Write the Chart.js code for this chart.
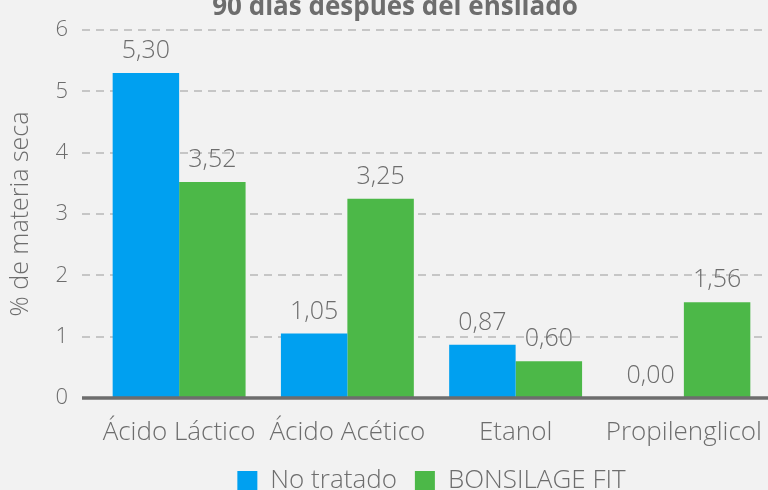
<!DOCTYPE html>
<html>
<head>
<meta charset="utf-8">
<script src="https://cdn.jsdelivr.net/npm/chart.js@4"></script>
<style>
  html, body { margin: 0; padding: 0; background: #f2f2f2; }
  #wrap { width: 768px; height: 490px; overflow: hidden; }
</style>
</head>
<body>
<div id="wrap"><canvas id="chart" width="768" height="490"></canvas></div>
<script>
const categories = ['Ácido Láctico', 'Ácido Acético', 'Etanol', 'Propilenglicol'];
const noTratado = [5.30, 1.05, 0.87, 0.00];
const bonsilage = [3.52, 3.25, 0.60, 1.56];
const seriesNames = ['No tratado', 'BONSILAGE FIT'];
const yTicks = [0, 1, 2, 3, 4, 5, 6];
const chartTitle = '90 días después del ensilado';

const textColor = '#6d6d6d';
const fontFamily = "'Open Sans', 'Noto Sans', sans-serif";

const noScalePadding = (axis) => {
    axis.paddingTop = 0;
    axis.paddingBottom = 0;
    axis.paddingLeft = 0;
    axis.paddingRight = 0;
};

// dashed grid + solid base line, drawn from the y scale
const dashedGrid = {
    id: 'dashedGrid',
    beforeDatasetsDraw(chart) {
        const ctx = chart.ctx;
        const y = chart.scales.y;
        const area = chart.chartArea;
        ctx.save();
        ctx.lineWidth = 2;
        ctx.strokeStyle = '#c6c6c6';
        ctx.setLineDash([8, 6]);
        yTicks.forEach(v => {
            if (v === 0) return;
            const py = Math.round(y.getPixelForValue(v));
            ctx.beginPath();
            ctx.moveTo(area.left - 13, py);
            ctx.lineTo(Math.min(area.right, chart.width - 5), py);
            ctx.stroke();
        });
        ctx.restore();
    },
    afterDatasetsDraw(chart) {
        const ctx = chart.ctx;
        const py = chart.scales.y.getPixelForValue(0);
        ctx.save();
        ctx.lineWidth = 3.5;
        ctx.strokeStyle = '#6d6d6d';
        ctx.beginPath();
        ctx.moveTo(chart.chartArea.left - 13, py);
        ctx.lineTo(chart.width, py);
        ctx.stroke();
        ctx.restore();
    }
};

// values above each bar, comma decimals
const valueLabels = {
    id: 'valueLabels',
    afterDatasetsDraw(chart) {
        const ctx = chart.ctx;
        ctx.save();
        ctx.font = '300 25px ' + fontFamily;
        ctx.fillStyle = textColor;
        ctx.textAlign = 'center';
        ctx.textBaseline = 'alphabetic';
        chart.data.datasets.forEach((ds, i) => {
            chart.getDatasetMeta(i).data.forEach((bar, j) => {
                const txt = ds.data[j].toFixed(2).replace('.', ',');
                ctx.fillText(txt, bar.x, bar.y - 15);
            });
        });
        ctx.restore();
    }
};

// title sits partly above the picture
const topTitle = {
    id: 'topTitle',
    afterDraw(chart) {
        const ctx = chart.ctx;
        ctx.save();
        ctx.font = 'bold 26px ' + fontFamily;
        ctx.fillStyle = textColor;
        ctx.textAlign = 'center';
        ctx.textBaseline = 'alphabetic';
        ctx.fillText(chartTitle, 395, 15);
        ctx.restore();
    }
};

new Chart(document.getElementById('chart').getContext('2d'), {
    type: 'bar',
    data: {
        labels: categories,
        datasets: [
            { label: seriesNames[0], data: noTratado, backgroundColor: '#00a0f0' },
            { label: seriesNames[1], data: bonsilage, backgroundColor: '#4cb848' }
        ]
    },
    options: {
        responsive: false,
        animation: false,
        layout: { autoPadding: false, padding: { top: 30, right: -5, left: 0, bottom: -14 } },
        datasets: { bar: { categoryPercentage: 0.79, barPercentage: 1.0 } },
        plugins: {
            legend: {
                position: 'bottom',
                fullSize: false,
                labels: {
                    color: textColor,
                    font: { family: fontFamily, size: 26, weight: '300' },
                    boxWidth: 20,
                    boxHeight: 20,
                    padding: 18
                }
            },
            tooltip: { enabled: false }
        },
        scales: {
            x: {
                grid: { display: false, drawTicks: false },
                border: { display: false },
                afterFit: (axis) => { axis.height = 52; noScalePadding(axis); },
                ticks: {
                    color: textColor,
                    font: { family: fontFamily, size: 26, weight: '300' },
                    padding: 19,
                    maxRotation: 0,
                    autoSkip: false
                }
            },
            y: {
                min: 0,
                max: 6,
                afterBuildTicks: (axis) => { axis.ticks = yTicks.map(v => ({ value: v })); },
                afterFit: (axis) => { axis.width = 95; noScalePadding(axis); },
                grid: { display: false, drawTicks: false },
                border: { display: false },
                ticks: {
                    color: textColor,
                    font: { family: fontFamily, size: 22, weight: '300' },
                    padding: 27
                },
                title: {
                    display: true,
                    text: '% de materia seca',
                    color: textColor,
                    font: { family: fontFamily, size: 25, weight: '300' },
                    padding: { top: 6, bottom: 0 }
                }
            }
        }
    },
    plugins: [dashedGrid, valueLabels, topTitle]
});
</script>
</body>
</html>
